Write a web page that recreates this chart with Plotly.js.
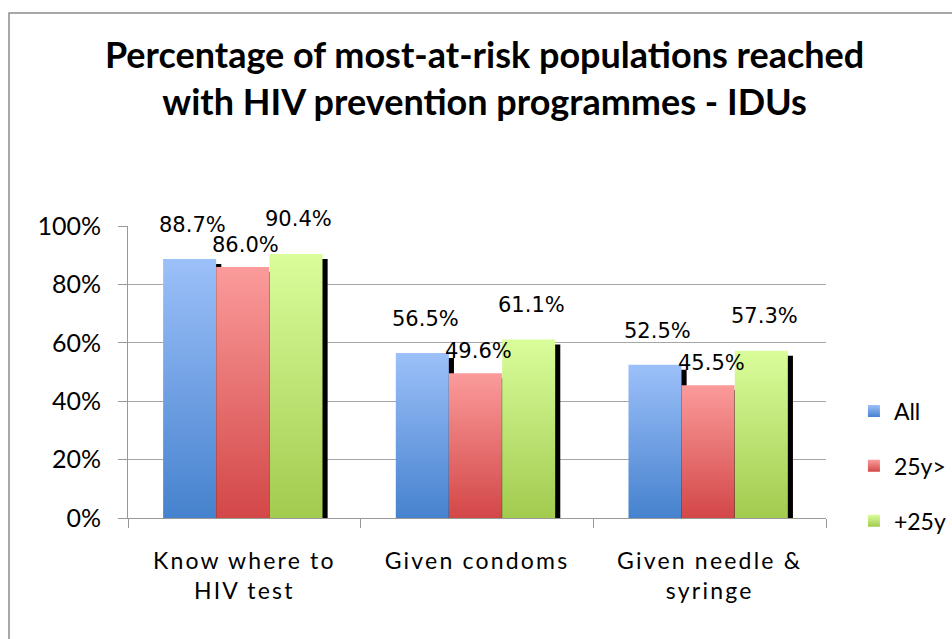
<!DOCTYPE html>
<html>
<head>
<meta charset="utf-8">
<script src="https://cdn.plot.ly/plotly-3.0.1.min.js"></script>
<style>
html,body{margin:0;padding:0;background:#fff;}
#chart{width:952px;height:639px;}
#chart .xtick text{letter-spacing:2.2px;}
</style>
</head>
<body>
<div id="chart"></div>
<script>
const categories = ["Know where to<br>HIV test", "Given condoms", "Given needle &amp;<br>syringe"];
const seriesNames = ["All", "25y>", "+25y"];
const valuesAll = [88.7, 56.5, 52.5];
const valuesUnder25 = [86.0, 49.6, 45.5];
const valuesOver25 = [90.4, 61.1, 57.3];
const yTickVals = [0, 20, 40, 60, 80, 100];
const yTickLabels = ["0%", "20%", "40%", "60%", "80%", "100%"];

const seriesValues = [valuesAll, valuesUnder25, valuesOver25];
const gradTop = ["#9cc0f9", "#fb9b9b", "#dafd9b"];
const gradBottom = ["#4682ce", "#d34747", "#a2cb4f"];
const midColors = ["#78a3e6", "#e97878", "#c2e37c"];
const offsets = [-0.349, -0.121, 0.108];
const barWidth = 0.228;
const shadowShift = 0.022;
const shadowDrop = 1.7; // shadow drop in axis units (visual offset only)
const labelLift = [20, 8, 21]; // label gap above bar, px, per series (style)

const traces = [];
seriesValues.forEach((vals, i) => {
  traces.push({
    type: "bar", x: categories, y: vals, yaxis: "y",
    offset: offsets[i] + shadowShift, width: barWidth,
    marker: {color: "#000"}, showlegend: false, hoverinfo: "skip"
  });
});
seriesValues.forEach((vals, i) => {
  traces.push({
    type: "bar", x: categories, y: vals, yaxis: "y2", name: seriesNames[i],
    legendgroup: "g" + i,
    offset: offsets[i], width: barWidth,
    marker: {color: midColors[i]},
    meta: i
  });
});

const annotations = [];
seriesValues.forEach((vals, s) => {
  vals.forEach((v, c) => {
    annotations.push({
      xref: "x", yref: "y2", x: c + offsets[s] + barWidth / 2, y: v,
      text: v.toFixed(1) + "%", showarrow: false,
      yanchor: "bottom", yshift: labelLift[s], xshift: 3,
      font: {family: "DejaVu Sans", size: 21, color: "#000"}
    });
  });
});

const layout = {
  width: 952, height: 639,
  margin: {l: 128, r: 126, t: 226, b: 121, autoexpand: false},
  paper_bgcolor: "#fff", plot_bgcolor: "#fff",
  barmode: "overlay",
  font: {family: "Lato, sans-serif", color: "#000"},
  title: {
    text: "<b>Percentage of most-at-risk populations reached<br>with HIV prevention programmes - IDUs</b>",
    font: {family: "Lato, sans-serif", size: 36, color: "#000"},
    x: 0.509, xanchor: "center", xref: "container",
    y: 0.894, yanchor: "middle", yref: "container"
  },
  xaxis: {
    type: "category",
    showline: true, linecolor: "#999", linewidth: 1,
    ticks: "outside", tickson: "boundaries", ticklen: 9, tickcolor: "#999",
    ticklabelstandoff: 22,
    tickfont: {family: "Lato, sans-serif", size: 23, color: "#000"},
    showgrid: false
  },
  yaxis: {
    range: [shadowDrop, 100 + shadowDrop],
    showticklabels: false, showgrid: false, showline: false, zeroline: false, ticks: ""
  },
  yaxis2: {
    overlaying: "y", side: "left",
    range: [0, 100], tickmode: "array", tickvals: yTickVals, ticktext: yTickLabels,
    showline: true, linecolor: "#999", linewidth: 1,
    ticks: "outside", ticklen: 9, tickcolor: "#999",
    ticklabelstandoff: 12,
    showgrid: true, gridcolor: "#a6a6a6", gridwidth: 1,
    zeroline: false,
    tickfont: {family: "Lato, sans-serif", size: 25, color: "#000"}
  },
  legend: {
    x: 1.04, xanchor: "left", y: 0.178, yanchor: "middle",
    font: {family: "Lato, sans-serif", size: 23, color: "#000"},
    tracegroupgap: 22, itemwidth: 30, bgcolor: "rgba(0,0,0,0)"
  },
  annotations: annotations,
  shapes: [{
    type: "rect", xref: "paper", yref: "paper",
    x0: -0.1705, x1: 1.5, y0: -0.5, y1: 1.7295,
    line: {color: "#8c8c8c", width: 1.5}, fillcolor: "rgba(0,0,0,0)", layer: "below"
  }]
};

const gd = document.getElementById("chart");
Plotly.newPlot(gd, traces, layout, {displayModeBar: false, staticPlot: true}).then(() => {
  const svg = gd.querySelector("svg.main-svg");
  const ns = "http://www.w3.org/2000/svg";
  let defs = svg.querySelector("defs");
  if (!defs) { defs = document.createElementNS(ns, "defs"); svg.insertBefore(defs, svg.firstChild); }
  gradTop.forEach((top, i) => {
    const g = document.createElementNS(ns, "linearGradient");
    g.setAttribute("id", "barGrad" + i);
    g.setAttribute("x1", "0"); g.setAttribute("y1", "0");
    g.setAttribute("x2", "0"); g.setAttribute("y2", "1");
    const s1 = document.createElementNS(ns, "stop");
    s1.setAttribute("offset", "0"); s1.setAttribute("stop-color", top);
    const s2 = document.createElementNS(ns, "stop");
    s2.setAttribute("offset", "1"); s2.setAttribute("stop-color", gradBottom[i]);
    g.appendChild(s1); g.appendChild(s2); defs.appendChild(g);
  });
  gd.querySelectorAll(".barlayer .trace").forEach(tr => {
    const d = tr.__data__;
    const t = d && d[0] && d[0].trace;
    if (t && t.yaxis === "y2") {
      tr.querySelectorAll("path").forEach(p => p.style.fill = "url(#barGrad" + t.meta + ")");
    }
  });
  gd.querySelectorAll(".legend .traces").forEach(tr => {
    const d = tr.__data__;
    const t = d && d[0] && d[0].trace;
    if (t && t.meta !== undefined) {
      tr.querySelectorAll(".legendpoints path").forEach(p => p.style.fill = "url(#barGrad" + t.meta + ")");
    }
  });
});
</script>
</body>
</html>
